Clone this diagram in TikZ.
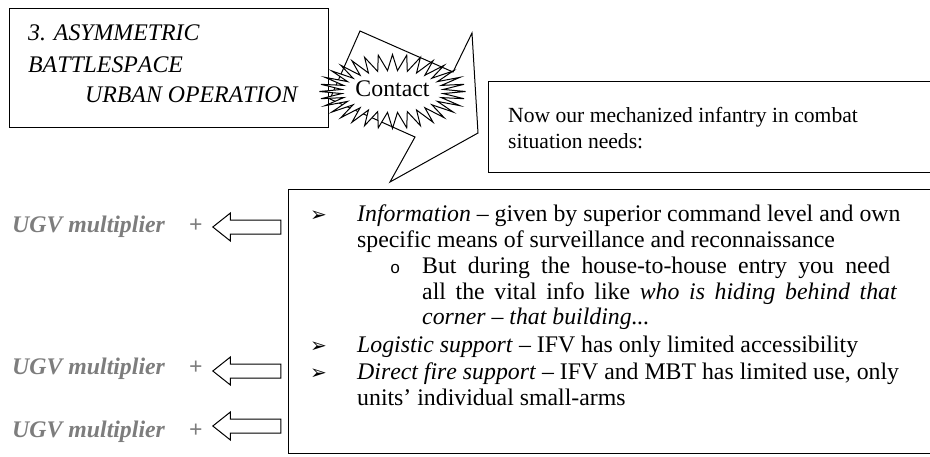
\documentclass[tikz,border=0pt]{standalone}
\usepackage{fontspec}
\setmainfont{Liberation Serif}[Kerning=Off]
\newfontfamily\dingfont{DejaVu Sans}
\newfontfamily\ringfont{Liberation Mono}
\usepackage{tikz}
\usetikzlibrary{shapes.arrows}

\definecolor{ugvgray}{RGB}{125,125,125}
\newcommand{\txt}{\fontsize{21.6}{26}\selectfont}
\newcommand{\lst}{\fontsize{23.8}{26}\selectfont}
\newcommand{\bul}{\makebox[47pt][l]{\dingfont\fontsize{20}{20}\selectfont ➢}}
\newcommand{\subbul}{\makebox[32pt][l]{\ringfont\fontsize{17}{17}\selectfont o}}

\tikzset{
  bodyline/.style={anchor=base west, inner sep=0pt, font=\txt},
  listline/.style={anchor=base west, inner sep=0pt, font=\lst},
  captext/.style={anchor=base west, inner sep=0pt, font=\lst\itshape},
  ugv/.style={anchor=base west, inner sep=0pt, font=\lst\bfseries\itshape, text=ugvgray},
  boxframe/.style={draw, line width=1pt, anchor=north west, inner sep=0pt},
  hollow/.style={single arrow, draw, fill=white, line width=1pt,
    shape border rotate=180, minimum height=68pt, inner xsep=0pt, inner ysep=6.5pt,
    single arrow head extend=7pt, single arrow tip angle=77, anchor=tip},
}

\begin{document}
\begin{tikzpicture}[x=1pt,y=-1pt]
  \useasboundingbox (0,0) rectangle (930,456);

  % scenario box
  \draw (9,8) node[boxframe, minimum width=319pt, minimum height=119pt] (scen) {};
  \draw (28,40) node[captext] (asym) {3. ASYMMETRIC};
  \draw (28,72) node[captext] (bspace) {BATTLESPACE};
  \draw (85,102) node[captext] (urban) {URBAN OPERATION};

  % big block arrow towards the needs box
  \draw[line width=1pt, fill=white] (330,99) -- (360,31) -- (453,72) -- (472,33)
     -- (478,133) -- (390,182) -- (415,137) -- cycle;

  % starburst
  \draw[line width=1pt, fill=white, shift={(392.5,91.5)}]
     plot[samples=65, domain=0:360, variable=\t]
     ({(62+11*cos(32*\t))*cos(\t)}, {(29+8*cos(32*\t))*sin(\t)}) -- cycle;
  \draw (392.5,88.5) node[font=\lst, inner sep=0pt] (contact) {Contact};

  % needs box
  \draw (488,81) node[boxframe, minimum width=460pt, minimum height=91pt] (needs) {};
  \draw (508,122) node[bodyline] (now) {Now our mechanized infantry in combat};
  \draw (508,148) node[bodyline] (sit) {situation needs:};

  % list box
  \draw (288,189) node[boxframe, minimum width=660pt, minimum height=264pt] (list) {};
  \draw (310,221) node[listline] (info) {\bul\textit{Information} -- given by superior command level and own};
  \draw (357,247) node[listline] (info2) {specific means of surveillance and reconnaissance};
  \draw (390,273) node[listline] (house) {\subbul\makebox[468pt][s]{But during the house-to-house entry you need}};
  \draw (422,299) node[listline] (house2) {\makebox[475pt][s]{all the vital info like \textit{who is hiding behind that}}};
  \draw (422,324) node[listline] (house3) {\textit{corner -- that building...}};
  \draw (310,352) node[listline] (logi) {\bul\textit{Logistic support} -- IFV has only limited accessibility};
  \draw (310,379) node[listline] (fire) {\bul\textit{Direct fire support} -- IFV and MBT has limited use, only};
  \draw (357,405) node[listline] (fire2) {units’ individual small-arms};

  % multipliers
  \draw (12,232) node[ugv] (ugva) {UGV multiplier\hspace{24pt}+};
  \draw (12,374) node[ugv] (ugvb) {UGV multiplier\hspace{24pt}+};
  \draw (12,437) node[ugv] (ugvc) {UGV multiplier\hspace{24pt}+};
  \node[hollow] (arra) at (212,227) {};
  \node[hollow] (arrb) at (212,371) {};
  \node[hollow] (arrc) at (212,426) {};
\end{tikzpicture}
\end{document}
